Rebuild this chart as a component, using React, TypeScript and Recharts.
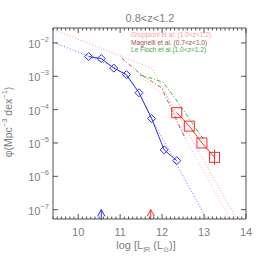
import React from 'react'
import {
  LineChart,
  Line,
  XAxis,
  YAxis,
  ReferenceDot,
  Customized,
} from 'recharts'

// this work: diamonds (blue) and squares (red)
const blueX = [10.25, 10.55, 10.85, 11.15, 11.45, 11.75, 12.05, 12.35]
const blueY = [3.9e-3, 3.4e-3, 1.75e-3, 1.12e-3, 3.2e-4, 5.4e-5, 6.2e-6, 2.95e-6]
const redX = [12.35, 12.65, 12.95, 13.25]
const redY = [8.1e-5, 3.2e-5, 1.0e-5, 3.7e-6]
const redErrX = [13.25, 13.25]
const redErrY = [2.2e-6, 6.3e-6]

// fits and literature curves
const blueFitX = [9.4, 10.25, 10.85, 11.15, 11.45, 11.75, 13.06]
const blueFitY = [1.05e-2, 4.0e-3, 1.9e-3, 1.0e-3, 3.3e-4, 5.4e-5, 5.25e-8]
const gruppX = [9.4, 11.75, 13.78]
const gruppY = [2.57e-2, 1.74e-3, 5.25e-8]
const grupp2X = [11.43, 12.14, 12.61, 13.62]
const grupp2Y = [1.1e-3, 2.2e-4, 1.0e-5, 5.25e-8]
const magX = [11.04, 11.51, 11.99, 12.43, 12.55]
const magY = [3.5e-3, 1.1e-3, 4.5e-4, 2.8e-5, 1.4e-5]
const lfX = [11.47, 11.8, 12.03, 12.34, 13.02]
const lfY = [1.1e-3, 8.3e-4, 6.5e-4, 1.95e-4, 1.1e-5]

// limits marked with arrows
const arrowX = [10.55, 11.73]
const arrowColors = ['#2a2aff', '#ff2a2a']

const xMajor = [10, 11, 12, 13, 14]
const yTicks = [1e-7, 1e-6, 1e-5, 1e-4, 1e-3, 1e-2]
const yExp = ['−7', '−6', '−5', '−4', '−3', '−2']
const legendNames = [
  'Gruppioni et al. (1.0<z<1.2)',
  'Magnelli et al. (0.7<z<1.0)',
  'Le Floch et al.(1.0<z<1.2)',
]
const legendColors = ['#ff9a9a', '#a05050', '#40b040']
const title = '0.8<z<1.2'

const xMinor: number[] = []
for (let i = 94; i <= 140; i++) xMinor.push(i / 10)

const zip = (xs: number[], ys: number[]) => xs.map((x, i) => ({ x, y: ys[i] }))

const FONT = '"Liberation Sans", Arial, sans-serif'
const GREY = '#808080'
const AXIS = '#505050'

const Diamond = (props: any) => {
  const { cx, cy } = props
  if (cx == null || cy == null) return null
  return (
    <path
      d={`M${cx},${cy - 4} L${cx + 4},${cy} L${cx},${cy + 4} L${cx - 4},${cy} Z`}
      fill="none"
      stroke="#2a2aff"
      strokeWidth={1}
    />
  )
}

const Square = (props: any) => {
  const { cx, cy } = props
  if (cx == null || cy == null) return null
  return <rect x={cx - 5} y={cy - 5} width={10} height={10} fill="none" stroke="#ff2a2a" />
}

const isMajor = (v: number) => xMajor.some((m) => Math.abs(m - v) < 1e-6)

const BottomTick = (props: any) => {
  const { x, y, payload } = props
  const major = isMajor(payload.value)
  return (
    <g>
      <line x1={x} y1={y} x2={x} y2={y - (major ? 5 : 2.5)} stroke={AXIS} />
      {major && (
        <text x={x} y={y + 17} textAnchor="middle" fontSize={11} fill={GREY} fontFamily={FONT}>
          {payload.value}
        </text>
      )}
    </g>
  )
}

const TopTick = (props: any) => {
  const { x, y, payload } = props
  const major = isMajor(payload.value)
  return <line x1={x} y1={y} x2={x} y2={y + (major ? 5 : 2.5)} stroke={AXIS} />
}

const LeftTick = (props: any) => {
  const { x, y, payload, index } = props
  const i = yTicks.findIndex((t) => Math.abs(t - payload.value) / t < 1e-6)
  return (
    <g>
      <line x1={x} y1={y} x2={x + 5} y2={y} stroke={AXIS} />
      <text x={x - 4} y={y + 5} textAnchor="end" fontSize={11} fill={GREY} fontFamily={FONT}>
        <tspan>10</tspan>
        <tspan dy={-6} fontSize={7.5}>
          {yExp[i >= 0 ? i : index]}
        </tspan>
      </text>
    </g>
  )
}

const RightTick = (props: any) => {
  const { x, y } = props
  return <line x1={x} y1={y} x2={x - 5} y2={y} stroke={AXIS} />
}

const Arrow = (color: string) => (props: any) => {
  const { cx, cy } = props
  if (cx == null || cy == null) return null
  return (
    <g stroke={color} fill="none" strokeWidth={1}>
      <line x1={cx} y1={cy} x2={cx} y2={cy + 10} />
      <path d={`M${cx - 3.7},${cy + 6.7} L${cx},${cy} L${cx + 3.7},${cy + 6.7}`} />
    </g>
  )
}

const Texts = () => (
  <g fontFamily={FONT}>
    <text x={150} y={22} textAnchor="middle" fontSize={11} fill={GREY}>
      {title}
    </text>
    {legendNames.map((n, i) => (
      <text key={n} x={131} y={37 + i * 7.6} fontSize={6.6} fill={legendColors[i]}>
        {n}
      </text>
    ))}
    <text x={146} y={249} textAnchor="middle" fontSize={11} fill={GREY}>
      log [L
      <tspan dy={3} fontSize={7}>IR</tspan>
      <tspan dy={-3}> (L</tspan>
      <tspan dy={3} fontSize={7}>⊙</tspan>
      <tspan dy={-3}>)]</tspan>
    </text>
    <text transform="translate(11.5,122) rotate(-90)" textAnchor="middle" fontSize={10.5} fill={GREY}>
      φ(Mpc
      <tspan dy={-5} fontSize={7.5}>−3</tspan>
      <tspan dy={5}> dex</tspan>
      <tspan dy={-5} fontSize={7.5}>−1</tspan>
      <tspan dy={5}>)</tspan>
    </text>
  </g>
)

export default function App() {
  return (
    <div style={{ position: 'absolute', left: 0, top: 0, background: '#fff' }}>
      <LineChart width={256} height={275} margin={{ top: 0, right: 0, bottom: 0, left: 0 }}>
        <XAxis
          xAxisId="b"
          type="number"
          dataKey="x"
          domain={[9.4, 14]}
          allowDataOverflow
          ticks={xMinor}
          interval={0}
          height={56}
          tickSize={0}
          tickMargin={0}
          tickLine={false}
          axisLine={{ stroke: AXIS }}
          tick={<BottomTick />}
        />
        <XAxis
          xAxisId="t"
          orientation="top"
          type="number"
          dataKey="x"
          domain={[9.4, 14]}
          allowDataOverflow
          ticks={xMinor}
          interval={0}
          height={28}
          tickSize={0}
          tickMargin={0}
          tickLine={false}
          axisLine={{ stroke: AXIS }}
          tick={<TopTick />}
        />
        <YAxis
          yAxisId="l"
          scale="log"
          type="number"
          domain={[5.25e-8, 2.8e-2]}
          allowDataOverflow
          ticks={yTicks}
          interval={0}
          width={53}
          tickSize={0}
          tickMargin={0}
          tickLine={false}
          axisLine={{ stroke: AXIS }}
          tick={<LeftTick />}
        />
        <YAxis
          yAxisId="r"
          orientation="right"
          scale="log"
          type="number"
          domain={[5.25e-8, 2.8e-2]}
          allowDataOverflow
          ticks={yTicks}
          interval={0}
          width={10}
          tickSize={0}
          tickMargin={0}
          tickLine={false}
          axisLine={{ stroke: AXIS }}
          tick={<RightTick />}
        />

        <Line xAxisId="b" yAxisId="l" data={zip(gruppX, gruppY)} dataKey="y" stroke="#ff9a9a"
          strokeDasharray="1 2" dot={false} isAnimationActive={false} />
        <Line xAxisId="b" yAxisId="l" data={zip(grupp2X, grupp2Y)} dataKey="y" stroke="#ffb4b4"
          strokeDasharray="1 2" dot={false} isAnimationActive={false} />
        <Line xAxisId="b" yAxisId="l" data={zip(magX, magY)} dataKey="y" stroke="#b06060"
          strokeDasharray="4 2 1 2" dot={false} isAnimationActive={false} />
        <Line xAxisId="b" yAxisId="l" data={zip(lfX, lfY)} dataKey="y" stroke="#40b040"
          strokeDasharray="4 2 1 2" dot={false} isAnimationActive={false} />
        <Line xAxisId="b" yAxisId="l" data={zip(blueFitX, blueFitY)} dataKey="y" stroke="#7070ff"
          strokeDasharray="1 2" dot={false} isAnimationActive={false} />
        <Line xAxisId="b" yAxisId="l" data={zip(blueX, blueY)} dataKey="y" stroke="#2a2aff"
          dot={<Diamond />} isAnimationActive={false} />
        <Line xAxisId="b" yAxisId="l" data={zip(redX, redY)} dataKey="y" stroke="#ff2a2a"
          dot={<Square />} isAnimationActive={false} />
        <Line xAxisId="b" yAxisId="l" data={zip(redErrX, redErrY)} dataKey="y" stroke="#ff2a2a"
          dot={false} isAnimationActive={false} />

        {arrowX.map((ax, i) => (
          <ReferenceDot key={ax} xAxisId="b" yAxisId="l" x={ax} y={1e-7} r={0}
            ifOverflow="visible" shape={Arrow(arrowColors[i])} />
        ))}
        <Customized component={Texts} />
      </LineChart>
    </div>
  )
}
